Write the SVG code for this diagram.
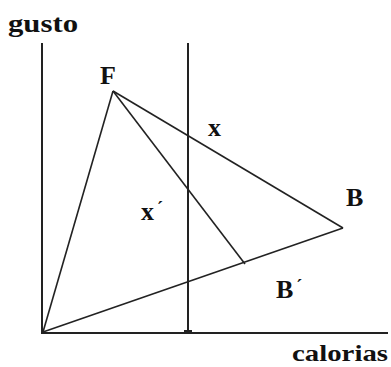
<svg xmlns="http://www.w3.org/2000/svg" width="391" height="367" viewBox="0 0 391 367">
<style>
.ax{stroke:#222;stroke-width:2;fill:none}
.ln{stroke:#222;stroke-width:1.6;fill:none}
.t{font-family:"Liberation Serif","Times New Roman",serif;font-weight:bold;fill:#111;font-size:26px}
</style>
<rect width="391" height="367" fill="#fff"/>
<g id="axes">
<line class="ax" x1="42" y1="43" x2="42" y2="334"/>
<line class="ax" x1="41" y1="333" x2="388" y2="333"/>
<line class="ax" x1="188" y1="43" x2="188" y2="333"/>
<rect x="184" y="330" width="8" height="3" fill="#222"/>
</g>
<g id="connectors">
<line class="ln" x1="43" y1="332" x2="113" y2="91"/>
<line class="ln" x1="113" y1="91" x2="343" y2="228"/>
<line class="ln" x1="113" y1="91" x2="245" y2="264"/>
<line class="ln" x1="43" y1="332" x2="343" y2="228"/>
</g>
<g id="labels">
<text class="t" x="8" y="32" textLength="70" lengthAdjust="spacingAndGlyphs">gusto</text>
<text class="t" x="292" y="361" font-size="24" style="font-size:24px" textLength="96" lengthAdjust="spacingAndGlyphs">calorias</text>
</g>
<g id="node-F"><text class="t" x="100" y="84">F</text></g>
<g id="node-x"><text class="t" x="208" y="136">x</text></g>
<g id="node-xp"><text class="t" x="141" y="220">x<tspan font-size="18" dx="3" dy="-6">´</tspan></text></g>
<g id="node-B"><text class="t" x="346" y="206">B</text></g>
<g id="node-Bp"><text class="t" x="276" y="298">B<tspan font-size="18" dx="3" dy="-6">´</tspan></text></g>
</svg>
